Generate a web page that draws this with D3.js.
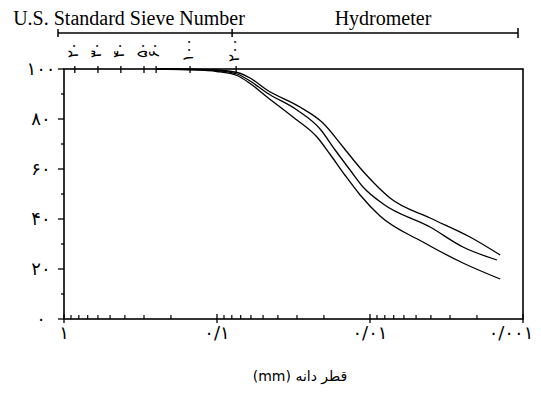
<!DOCTYPE html>
<html>
<head>
<meta charset="utf-8">
<script src="https://cdn.jsdelivr.net/npm/d3@7"></script>
<style>
  body { margin: 0; background: #fff; }
  svg { display: block; }
</style>
</head>
<body>
<div id="chart"></div>
<script>
// grain size (mm) vs percent passing, three samples
var top_d = [0.25, 0.15, 0.1, 0.074, 0.0608, 0.0471, 0.0287, 0.0203, 0.015, 0.0116, 0.0097, 0.0074, 0.00405, 0.00222, 0.00141]
var top_p = [100, 99.9, 99.6, 98.6, 96.4, 91.6, 84.8, 78.4, 68.8, 60.4, 55.2, 48.4, 40.4, 32.8, 25.6]

var mid_d = [0.25, 0.15, 0.1, 0.074, 0.0608, 0.0471, 0.030, 0.0212, 0.0169, 0.0135, 0.0111, 0.0082, 0.00405, 0.00247, 0.00148]
var mid_p = [100, 99.8, 99.3, 98, 95.2, 90.4, 83.6, 76, 67.6, 59.6, 52.8, 46, 36.8, 28.8, 23.6]

var bot_d = [0.25, 0.15, 0.1, 0.074, 0.0608, 0.0471, 0.0319, 0.0222, 0.0183, 0.0146, 0.0116, 0.0086, 0.00451, 0.00247, 0.00141]
var bot_p = [100, 99.7, 99, 97.4, 94.2, 88.8, 80.8, 72.8, 66, 57.6, 49.6, 41.2, 30.8, 22.4, 16]

// sieve numbers and their openings (mm)
var sieveNo = [20, 30, 40, 50, 60, 100, 200]
var sieveMm = [0.85, 0.6, 0.425, 0.3, 0.25, 0.15, 0.075]

var xTickVals = [1, 0.1, 0.01, 0.001]
var yTickVals = [0, 20, 40, 60, 80, 100]

var W = 541, H = 394
var margin = {left: 64, right: 18, top: 69, bottom: 75}

// persian digits, "/" as decimal mark
function fa(v) {
  return String(v).replace(/\./g, "/").replace(/[0-9]/g, function(c) {
    return "۰۱۲۳۴۵۶۷۸۹"[+c]
  })
}

var svg = d3.select("#chart").append("svg")
  .attr("width", W).attr("height", H)

var x = d3.scaleLog().domain([1, 0.001]).range([margin.left, W - margin.right])
var y = d3.scaleLinear().domain([0, 100]).range([H - margin.bottom, margin.top])

var g = svg.append("g")

// frame
g.append("rect")
  .attr("x", x(1)).attr("y", y(100))
  .attr("width", x(0.001) - x(1)).attr("height", y(0) - y(100))
  .attr("fill", "none").attr("stroke", "#000").attr("stroke-width", 1.6)

// y axis ticks
var yAll = d3.range(0, 101, 10)
g.selectAll(".yt").data(yAll).enter().append("line")
  .attr("x1", function(d) { return x(1) - (d % 20 == 0 ? 6 : 3) })
  .attr("x2", x(1))
  .attr("y1", function(d) { return y(d) }).attr("y2", function(d) { return y(d) })
  .attr("stroke", "#000").attr("stroke-width", 1.3)

g.selectAll(".yl").data(yTickVals).enter().append("text")
  .attr("x", 41).attr("y", function(d) { return y(d) + 6 })
  .attr("text-anchor", "middle")
  .style("font-family", "DejaVu Sans").style("font-size", "18px")
  .text(function(d) { return fa(d) })

// x axis ticks, minor ones inside
var xMinor = []
xTickVals.slice(1).forEach(function(dec) {
  for (var k = 2; k <= 9; k++) xMinor.push(dec * k)
})
g.selectAll(".xm").data(xMinor).enter().append("line")
  .attr("x1", function(d) { return x(d) }).attr("x2", function(d) { return x(d) })
  .attr("y1", y(0)).attr("y2", y(0) - 4)
  .attr("stroke", "#000").attr("stroke-width", 1.2)

g.selectAll(".xt").data(xTickVals).enter().append("line")
  .attr("x1", function(d) { return x(d) }).attr("x2", function(d) { return x(d) })
  .attr("y1", y(0) - 5).attr("y2", y(0) + 4)
  .attr("stroke", "#000").attr("stroke-width", 1.3)

g.selectAll(".xl").data(xTickVals).enter().append("text")
  .attr("x", function(d, i) { return x(d) + (i == 3 ? -12 : 0) })
  .attr("y", y(0) + 20)
  .attr("text-anchor", "middle")
  .style("font-family", "DejaVu Sans").style("font-size", "18px")
  .text(function(d) { return fa(d) })

// sieve ticks on top edge
g.selectAll(".st").data(sieveMm).enter().append("line")
  .attr("x1", function(d) { return x(d) }).attr("x2", function(d) { return x(d) })
  .attr("y1", y(100) - 3).attr("y2", y(100) + 4)
  .attr("stroke", "#000").attr("stroke-width", 1.3)

g.selectAll(".sl").data(sieveNo).enter().append("text")
  .attr("transform", function(d, i) {
    return "translate(" + (x(sieveMm[i]) - 2) + "," + 50 + ") rotate(-90)"
  })
  .attr("text-anchor", "middle")
  .attr("dy", "0.35em")
  .style("font-family", "DejaVu Sans").style("font-size", "15px")
  .text(function(d) { return fa(d) })

// bracket: sieve part and hydrometer part
var by = 33
var bx0 = x(1) - 6, bx1 = x(0.075) - 4, bx2 = x(0.001) - 5
g.append("line").attr("x1", bx0).attr("x2", bx2).attr("y1", by).attr("y2", by)
  .attr("stroke", "#000").attr("stroke-width", 1.5)
;[bx0, bx1, bx2].forEach(function(bx, i) {
  g.append("line").attr("x1", bx).attr("x2", bx)
    .attr("y1", by - (i == 2 ? 5 : 4)).attr("y2", by + (i == 2 ? 5 : 4))
    .attr("stroke", "#000").attr("stroke-width", 1.5)
})

g.append("text").attr("x", 129).attr("y", 25)
  .attr("text-anchor", "middle")
  .style("font-family", "Liberation Serif").style("font-size", "20px")
  .text("U.S. Standard Sieve Number")

g.append("text").attr("x", 383).attr("y", 25)
  .attr("text-anchor", "middle")
  .style("font-family", "Liberation Serif").style("font-size", "20px")
  .text("Hydrometer")

// x title
g.append("text").attr("x", 300).attr("y", 381)
  .attr("text-anchor", "middle")
  .attr("direction", "rtl")
  .style("font-family", "DejaVu Sans").style("font-size", "14px")
  .text("قطر دانه (mm)")

// the curves
var line = d3.line()
  .x(function(d) { return x(d[0]) })
  .y(function(d) { return y(d[1]) })
  .curve(d3.curveMonotoneX)

;[[top_d, top_p], [mid_d, mid_p], [bot_d, bot_p]].forEach(function(s) {
  var pts = s[0].map(function(d, i) { return [d, s[1][i]] })
  g.append("path").datum(pts)
    .attr("d", line)
    .attr("fill", "none").attr("stroke", "#000").attr("stroke-width", 1.3)
})
</script>
</body>
</html>
